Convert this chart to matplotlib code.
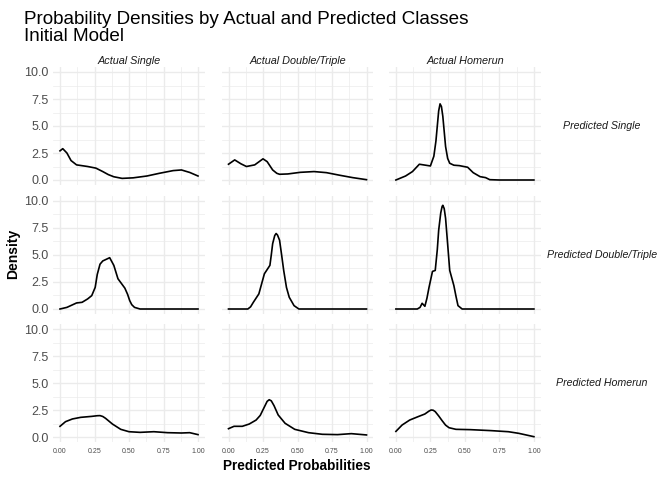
import numpy as np
import matplotlib
matplotlib.use("Agg")
import matplotlib.pyplot as plt
from matplotlib.ticker import MultipleLocator

plt.rcParams["font.family"] = ["Liberation Sans", "DejaVu Sans"]

actual = ["Actual Single", "Actual Double/Triple", "Actual Homerun"]
predicted = ["Predicted Single", "Predicted Double/Triple", "Predicted Homerun"]

# ---- density curves (row = predicted, col = actual)
ss_x = [0.0, 0.02, 0.05, 0.08, 0.12, 0.2, 0.26, 0.31, 0.35, 0.39, 0.45, 0.53, 0.63, 0.72,
        0.82, 0.88, 0.94, 1.0]
ss_y = [2.7, 2.9, 2.5, 1.8, 1.4, 1.25, 1.1, 0.78, 0.5, 0.3, 0.15, 0.2, 0.37, 0.62,
        0.87, 0.93, 0.7, 0.37]

sd_x = [0.0, 0.045, 0.09, 0.13, 0.19, 0.25, 0.28, 0.32, 0.35, 0.37, 0.43, 0.52, 0.62,
        0.71, 0.81, 0.9, 1.0]
sd_y = [1.46, 1.86, 1.5, 1.25, 1.4, 1.96, 1.7, 0.93, 0.62, 0.53, 0.56, 0.71, 0.78,
        0.68, 0.43, 0.22, 0.03]

sh_x = [0.0, 0.07, 0.12, 0.17, 0.2, 0.25, 0.275, 0.29, 0.3, 0.31, 0.32, 0.33, 0.34, 0.35,
        0.36, 0.375, 0.39, 0.42, 0.46, 0.52, 0.56, 0.61, 0.65, 0.68, 0.75, 1.0]
sh_y = [0.0, 0.37, 0.78, 1.46, 1.4, 1.3, 2.2, 3.6, 5.0, 6.4, 7.05, 6.8, 5.9, 4.5,
        3.1, 2.0, 1.55, 1.37, 1.33, 1.18, 0.68, 0.31, 0.22, 0.03, 0.0, 0.0]

ds_x = [0.0, 0.05, 0.12, 0.16, 0.2, 0.23, 0.255, 0.27, 0.29, 0.31, 0.33, 0.36, 0.39,
        0.42, 0.47, 0.49, 0.505, 0.52, 0.54, 0.58, 1.0]
ds_y = [0.0, 0.15, 0.56, 0.62, 0.93, 1.24, 2.0, 3.2, 4.15, 4.45, 4.57, 4.75, 4.04,
        2.8, 1.93, 1.35, 0.78, 0.4, 0.15, 0.0, 0.0]

dd_x = [0.0, 0.14, 0.16, 0.18, 0.22, 0.26, 0.3, 0.31, 0.32, 0.335, 0.345, 0.355, 0.37,
        0.385, 0.4, 0.42, 0.44, 0.475, 0.51, 1.0]
dd_y = [0.0, 0.0, 0.2, 0.62, 1.4, 3.26, 4.04, 5.0, 6.05, 6.8, 6.99, 6.85, 6.37,
        5.0, 3.57, 2.0, 1.09, 0.31, 0.0, 0.0]

dh_x = [0.0, 0.155, 0.175, 0.19, 0.21, 0.225, 0.24, 0.265, 0.285, 0.3, 0.31, 0.325,
        0.335, 0.34, 0.35, 0.36, 0.375, 0.39, 0.42, 0.435, 0.45, 0.48, 1.0]
dh_y = [0.0, 0.0, 0.15, 0.53, 0.25, 1.0, 2.0, 3.48, 3.57, 5.5, 7.3, 8.9, 9.5, 9.6,
        9.3, 8.4, 6.0, 3.57, 2.17, 1.2, 0.31, 0.0, 0.0]

hs_x = [0.0, 0.04, 0.09, 0.15, 0.23, 0.27, 0.29, 0.31, 0.33, 0.38, 0.44, 0.5, 0.58,
        0.68, 0.78, 0.88, 0.94, 1.0]
hs_y = [0.99, 1.42, 1.67, 1.82, 1.91, 1.97, 1.98, 1.9, 1.73, 1.2, 0.71, 0.49, 0.43,
        0.49, 0.4, 0.37, 0.4, 0.22]

hd_x = [0.0, 0.04, 0.1, 0.15, 0.2, 0.23, 0.255, 0.28, 0.295, 0.31, 0.33, 0.36, 0.41,
        0.48, 0.58, 0.68, 0.79, 0.89, 1.0]
hd_y = [0.77, 0.99, 0.99, 1.2, 1.57, 2.0, 2.65, 3.3, 3.45, 3.35, 2.9, 2.04, 1.27,
        0.71, 0.4, 0.25, 0.22, 0.31, 0.19]

hh_x = [0.0, 0.045, 0.1, 0.16, 0.21, 0.24, 0.255, 0.27, 0.285, 0.31, 0.335, 0.36,
        0.385, 0.435, 0.54, 0.69, 0.815, 0.89, 1.0]
hh_y = [0.52, 1.11, 1.57, 1.88, 2.13, 2.4, 2.5, 2.48, 2.35, 1.95, 1.51, 1.1,
        0.86, 0.71, 0.68, 0.59, 0.49, 0.34, 0.03]

curves = [[(ss_x, ss_y), (sd_x, sd_y), (sh_x, sh_y)],
          [(ds_x, ds_y), (dd_x, dd_y), (dh_x, dh_y)],
          [(hs_x, hs_y), (hd_x, hd_y), (hh_x, hh_y)]]

W, H = 672, 480
fig = plt.figure(figsize=(W / 100, H / 100), dpi=100)

col_left = [53.1, 221.6, 389.0]
row_top = [66.6, 195.6, 323.6]
pw, ph = 151.8, 118.8

for r in range(3):
    for c in range(3):
        ax = fig.add_axes([col_left[c] / W, 1 - (row_top[r] + ph) / H, pw / W, ph / H])
        xs, ys = curves[r][c]
        ax.plot(xs, ys, color="black", lw=1.2, solid_joinstyle="round")
        ax.set_xlim(-0.05, 1.05)
        ax.set_ylim(-0.5, 10.5)
        ax.xaxis.set_major_locator(MultipleLocator(0.25))
        ax.xaxis.set_minor_locator(MultipleLocator(0.125))
        ax.yaxis.set_major_locator(MultipleLocator(2.5))
        ax.yaxis.set_minor_locator(MultipleLocator(1.25))
        ax.grid(which="major", color="#EBEBEB", lw=1.0)
        ax.grid(which="minor", color="#EBEBEB", lw=0.5)
        ax.set_axisbelow(True)
        for s in ax.spines.values():
            s.set_visible(False)
        ax.tick_params(which="both", length=0)
        ax.tick_params(axis="y", labelsize=9, labelcolor="#4D4D4D", pad=3)
        ax.tick_params(axis="x", labelsize=5, labelcolor="#4D4D4D", pad=4)
        if c == 0:
            ax.set_yticks([0, 2.5, 5, 7.5, 10])
            ax.set_yticklabels(["0.0", "2.5", "5.0", "7.5", "10.0"])
        else:
            ax.set_yticklabels([])
        if r == 2:
            ax.set_xticks([0, 0.25, 0.5, 0.75, 1.0])
            ax.set_xticklabels(["0.00", "0.25", "0.50", "0.75", "1.00"])
        else:
            ax.set_xticklabels([])
        if r == 0:
            ax.set_title(actual[c], fontsize=7.8, style="italic", color="#1A1A1A", pad=2)
        if c == 2:
            ax.text(1.0 + 61 / pw, 0.5, predicted[r], transform=ax.transAxes,
                    fontsize=7.7, style="italic", color="#1A1A1A",
                    ha="center", va="center")

fig.text(24 / W, 1 - 28 / H, "Probability Densities by Actual and Predicted Classes\nInitial Model",
         fontsize=13.6, ha="left", va="center", linespacing=1.02)
fig.text(297 / W, 1 - 466 / H, "Predicted Probabilities", fontsize=9.8, fontweight="bold",
         ha="center", va="center")
fig.text(13 / W, 1 - 254 / H, "Density", fontsize=10, fontweight="bold",
         ha="center", va="center", rotation=90)

fig.savefig("out.png", dpi=100, facecolor="white")
